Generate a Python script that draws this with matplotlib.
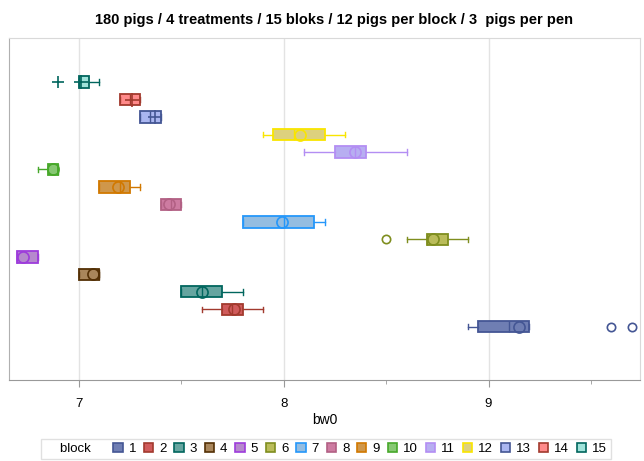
import matplotlib.pyplot as plt
from matplotlib.patches import Patch
from matplotlib.lines import Line2D
from matplotlib.ticker import MultipleLocator

plt.rcParams["font.family"] = ["Liberation Sans", "DejaVu Sans"]

blocks = list(range(1, 16))
# box stats (bw0)
q1 = [8.95, 7.70, 7.50, 7.00, 6.70, 8.70, 7.80, 7.40, 7.10, 6.85, 8.25, 7.95, 7.30, 7.20, 7.00]
q3 = [9.20, 7.80, 7.70, 7.10, 6.80, 8.80, 8.15, 7.50, 7.25, 6.90, 8.40, 8.20, 7.40, 7.30, 7.05]
med = [9.10, 7.75, 7.60, 7.10, 6.70, 8.70, 8.00, 7.45, 7.20, 6.90, 8.35, 8.05, 7.35, 7.25, 7.00]
mean = [9.15, 7.76, 7.60, 7.07, 6.73, 8.73, 7.99, 7.44, 7.19, 6.875, 8.35, 8.08, 7.37, 7.26, 7.01]
wlo = [8.90, 7.60, 7.50, 7.00, 6.70, 8.60, 7.80, 7.40, 7.10, 6.80, 8.10, 7.90, 7.30, 7.20, 7.00]
whi = [9.20, 7.90, 7.80, 7.10, 6.80, 8.90, 8.20, 7.50, 7.30, 6.90, 8.60, 8.30, 7.40, 7.30, 7.10]
fliers = [[9.6, 9.7], [], [], [], [], [8.5], [], [], [], [], [], [], [], [], [6.9]]

fills = ["#6F7EB3", "#D05B5B", "#66A5A0", "#A9865B", "#B689CD", "#BABC5A", "#94BDE1",
         "#CD7BA1", "#CF974B", "#87C873", "#B7AEF1", "#DDD17E", "#AAB6F0", "#FF8A8A", "#9FE3DA"]
edges = ["#445694", "#A23A2E", "#01665E", "#543005", "#9D3CDB", "#7F8E1F", "#2597FA",
         "#B26084", "#D17800", "#47A82A", "#B38EF3", "#F9E500", "#445694", "#A23A2E", "#01665E"]

fig = plt.figure(figsize=(6.44, 4.61), dpi=100)
ax = fig.add_axes([0.014, 0.176, 0.98, 0.742])

for i, b in enumerate(blocks):
    mk = "+" if b >= 13 else "o"
    ms = 10 if b >= 13 else 8
    ec = edges[i]
    st = dict(med=med[i], q1=q1[i], q3=q3[i], whislo=wlo[i], whishi=whi[i],
              fliers=fliers[i], mean=mean[i])
    ax.bxp([st], positions=[b], widths=0.64, capwidths=0.3, orientation="horizontal",
           patch_artist=True, showmeans=True,
           boxprops=dict(facecolor=fills[i], edgecolor=ec, linewidth=1.3),
           medianprops=dict(color=ec, linewidth=1.0),
           whiskerprops=dict(color=ec, linewidth=1.0),
           capprops=dict(color=ec, linewidth=1.0),
           meanprops=dict(marker=mk, markerfacecolor="none", markeredgecolor=ec,
                          markersize=ms, markeredgewidth=1.2),
           flierprops=dict(marker=mk, markerfacecolor="none", markeredgecolor=ec,
                           markersize=ms - 2, markeredgewidth=1.2))

ax.set_xlim(6.66, 9.74)
ax.set_ylim(-2.03, 17.53)
ax.set_yticks([])
ax.xaxis.set_major_locator(MultipleLocator(1))
ax.xaxis.set_minor_locator(MultipleLocator(0.5))
ax.tick_params(axis="x", which="major", length=5, color="#999999", labelsize=9.5, pad=8)
ax.tick_params(axis="x", which="minor", length=3, color="#999999")
ax.grid(axis="x", which="major", color="#E3E3E3", linewidth=1)
ax.set_axisbelow(True)
for s in ax.spines.values():
    s.set_color("#D9D9D9")
ax.spines["bottom"].set_color("#999999")
ax.spines["left"].set_color("#B0B0B0")
ax.set_xlabel("bw0", fontsize=10, labelpad=2)
ax.set_ylabel("")

ax.set_title("180 pigs / 4 treatments / 15 bloks / 12 pigs per block / 3  pigs per pen",
             fontsize=10.5, fontweight="bold", pad=10, x=0.515)

handles = [Line2D([], [], linestyle="none")]
labels = ["block    "]
for i, b in enumerate(blocks):
    handles.append(Patch(facecolor=fills[i], edgecolor=edges[i], linewidth=1.2))
    labels.append(str(b))
leg = fig.legend(handles, labels, ncol=16, loc="center", bbox_to_anchor=(0.506, 0.026),
                 fontsize=9.5, frameon=True, fancybox=False, handlelength=0.7,
                 handleheight=0.7, handletextpad=0.45, columnspacing=0.6, borderpad=0.3,
                 borderaxespad=0)
leg.get_frame().set_edgecolor("#D9D9D9")
leg.get_frame().set_linewidth(1.0)

fig.savefig("out.png", dpi=100)
